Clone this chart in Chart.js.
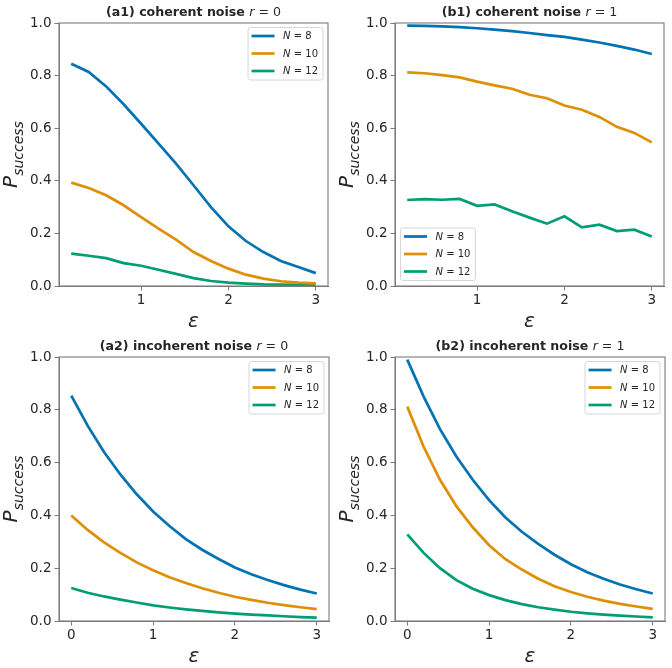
<!DOCTYPE html>
<html>
<head>
<meta charset="utf-8">
<script src="https://cdn.jsdelivr.net/npm/chart.js@4"></script>
<style>
  html, body { margin: 0; padding: 0; background: #fff; }
  #fig { position: relative; width: 672px; height: 668px; }
  .panel { position: absolute; width: 336px; height: 334px; }
</style>
</head>
<body>
<div id="fig">
  <div class="panel" style="left:0;top:0"><canvas id="a1" width="336" height="334"></canvas></div>
  <div class="panel" style="left:336px;top:0"><canvas id="b1" width="336" height="334"></canvas></div>
  <div class="panel" style="left:0;top:334px"><canvas id="a2" width="336" height="334"></canvas></div>
  <div class="panel" style="left:336px;top:334px"><canvas id="b2" width="336" height="334"></canvas></div>
</div>
<script>
// epsilon values (x)
const epsCoherent = [0.2, 0.4, 0.6, 0.8, 1.0, 1.2, 1.4, 1.6, 1.8, 2.0, 2.2, 2.4, 2.6, 2.8, 3.0];
const epsIncoherent = [0, 0.2, 0.4, 0.6, 0.8, 1.0, 1.2, 1.4, 1.6, 1.8, 2.0, 2.2, 2.4, 2.6, 2.8, 3.0];
const sizesN = [8, 10, 12];

// (a1) coherent noise r = 0
const a1N8  = [0.845, 0.814, 0.759, 0.691, 0.617, 0.541, 0.465, 0.383, 0.300, 0.227, 0.171, 0.129, 0.095, 0.072, 0.049];
const a1N10 = [0.393, 0.373, 0.345, 0.307, 0.262, 0.218, 0.176, 0.129, 0.095, 0.066, 0.043, 0.028, 0.018, 0.013, 0.010];
const a1N12 = [0.123, 0.115, 0.106, 0.087, 0.077, 0.062, 0.046, 0.030, 0.019, 0.013, 0.009, 0.006, 0.005, 0.004, 0.004];

// (b1) coherent noise r = 1
const b1N8  = [0.990, 0.989, 0.987, 0.984, 0.980, 0.975, 0.969, 0.962, 0.954, 0.947, 0.937, 0.926, 0.913, 0.899, 0.882];
const b1N10 = [0.812, 0.809, 0.802, 0.793, 0.777, 0.763, 0.750, 0.727, 0.714, 0.686, 0.670, 0.643, 0.605, 0.582, 0.546];
const b1N12 = [0.327, 0.330, 0.328, 0.331, 0.305, 0.310, 0.284, 0.260, 0.237, 0.265, 0.223, 0.233, 0.209, 0.214, 0.188];

// (a2) incoherent noise r = 0
const a2N8  = [0.854, 0.740, 0.640, 0.555, 0.480, 0.415, 0.360, 0.310, 0.270, 0.235, 0.203, 0.177, 0.155, 0.136, 0.119, 0.104];
const a2N10 = [0.400, 0.345, 0.298, 0.258, 0.222, 0.192, 0.166, 0.144, 0.124, 0.107, 0.092, 0.080, 0.069, 0.060, 0.052, 0.045];
const a2N12 = [0.125, 0.107, 0.093, 0.081, 0.070, 0.059, 0.051, 0.044, 0.038, 0.033, 0.028, 0.024, 0.021, 0.018, 0.015, 0.013];

// (b2) incoherent noise r = 1
const b2N8  = [0.990, 0.850, 0.727, 0.623, 0.535, 0.458, 0.392, 0.338, 0.292, 0.251, 0.215, 0.185, 0.160, 0.138, 0.120, 0.104];
const b2N10 = [0.812, 0.660, 0.535, 0.435, 0.355, 0.287, 0.234, 0.195, 0.160, 0.132, 0.110, 0.092, 0.077, 0.065, 0.055, 0.046];
const b2N12 = [0.328, 0.258, 0.200, 0.155, 0.122, 0.098, 0.079, 0.064, 0.052, 0.043, 0.035, 0.029, 0.024, 0.020, 0.017, 0.014];

const xTicksCoherent = [1, 2, 3];
const xTicksIncoherent = [0, 1, 2, 3];
const yTicks = [0, 0.2, 0.4, 0.6, 0.8, 1.0];

const colors = ['#0173b2', '#de8f05', '#029e73'];
const spineColor = '#7a7a7a';
const textColor = '#262626';
const FONT = '"DejaVu Sans", sans-serif';

const panels = [
  { id: 'a1', title: ['(a1) coherent noise ', 'r', ' = 0'], eps: epsCoherent, series: [a1N8, a1N10, a1N12],
    xMin: 0.06, xMax: 3.14, xTicks: xTicksCoherent, legend: 'upper right',
    area: { left: 59, right: 328, top: 23, bottom: 286 } },
  { id: 'b1', title: ['(b1) coherent noise ', 'r', ' = 1'], eps: epsCoherent, series: [b1N8, b1N10, b1N12],
    xMin: 0.06, xMax: 3.14, xTicks: xTicksCoherent, legend: 'lower left',
    area: { left: 59, right: 328, top: 23, bottom: 286 } },
  { id: 'a2', title: ['(a2) incoherent noise ', 'r', ' = 0'], eps: epsIncoherent, series: [a2N8, a2N10, a2N12],
    xMin: -0.15, xMax: 3.15, xTicks: xTicksIncoherent, legend: 'upper right',
    area: { left: 59, right: 329, top: 23, bottom: 287 } },
  { id: 'b2', title: ['(b2) incoherent noise ', 'r', ' = 1'], eps: epsIncoherent, series: [b2N8, b2N10, b2N12],
    xMin: -0.15, xMax: 3.15, xTicks: xTicksIncoherent, legend: 'upper right',
    area: { left: 59, right: 329, top: 23, bottom: 287 } }
];

// draws pieces in mixed fonts one after another, returns total width
function runs(ctx, parts, x, y, measureOnly) {
  let w = 0;
  parts.forEach(p => {
    ctx.font = p.font;
    const pw = ctx.measureText(p.text).width;
    if (!measureOnly) ctx.fillText(p.text, x + w, y + (p.dy || 0));
    w += pw;
  });
  return w;
}

function drawLegend(chart, corner) {
  const ctx = chart.ctx, a = chart.chartArea;
  const rows = chart.data.datasets.map(ds => ({
    color: ds.borderColor,
    parts: [
      { text: 'N', font: 'italic 10px ' + FONT },
      { text: ' = ' + ds.label.split('=')[1].trim(), font: '10px ' + FONT }
    ]
  }));
  ctx.save();
  ctx.textBaseline = 'middle';
  const textW = Math.max(...rows.map(r => runs(ctx, r.parts, 0, 0, true)));
  const boxW = 35 + textW + 5, boxH = 52.5;
  let bx, by;
  if (corner === 'upper right') { bx = a.right - 5 - boxW; by = a.top + 4.5; }
  else { bx = a.left + 5.5; by = a.bottom - 5.5 - boxH; }
  ctx.beginPath();
  ctx.roundRect(bx, by, boxW, boxH, 2.5);
  ctx.fillStyle = 'rgba(255,255,255,0.8)';
  ctx.fill();
  ctx.strokeStyle = '#d6d6d6';
  ctx.lineWidth = 1;
  ctx.stroke();
  rows.forEach((r, i) => {
    const y = by + 8.5 + i * 17.5;
    ctx.beginPath();
    ctx.moveTo(bx + 3.5, y);
    ctx.lineTo(bx + 26.5, y);
    ctx.strokeStyle = r.color;
    ctx.lineWidth = 2.7;
    ctx.stroke();
    ctx.fillStyle = textColor;
    runs(ctx, r.parts, bx + 35, y + 0.5);
  });
  ctx.restore();
}

const decor = {
  id: 'decor',
  afterDraw(chart, args, opts) {
    const ctx = chart.ctx, a = chart.chartArea;
    ctx.save();
    // frame
    ctx.strokeStyle = spineColor;
    ctx.lineWidth = 1.1;
    ctx.strokeRect(a.left, a.top, a.right - a.left, a.bottom - a.top);
    ctx.fillStyle = textColor;
    ctx.textBaseline = 'alphabetic';
    const cx = (a.left + a.right) / 2;
    // title
    const tparts = [
      { text: opts.title[0], font: 'bold 12.6px ' + FONT },
      { text: opts.title[1], font: 'italic 12.6px ' + FONT },
      { text: opts.title[2], font: '12.6px ' + FONT }
    ];
    const tw = runs(ctx, tparts, 0, 0, true);
    runs(ctx, tparts, cx - tw / 2, a.top - 7);
    // x label
    ctx.font = 'italic 20px ' + FONT;
    ctx.textAlign = 'center';
    ctx.fillText('\u03b5', cx, a.bottom + 41);
    ctx.textAlign = 'left';
    // y label
    const yparts = [
      { text: 'P', font: 'italic 20px ' + FONT },
      { text: 'success', font: 'italic 14px ' + FONT, dy: 5.5 }
    ];
    const yw = runs(ctx, yparts, 0, 0, true);
    ctx.translate(17, (a.top + a.bottom) / 2);
    ctx.rotate(-Math.PI / 2);
    runs(ctx, yparts, -yw / 2, 0);
    ctx.restore();
    drawLegend(chart, opts.legend);
  }
};

panels.forEach(p => {
  const H = 334, W = 336;
  new Chart(document.getElementById(p.id), {
    type: 'line',
    data: {
      datasets: p.series.map((s, i) => ({
        label: 'N = ' + sizesN[i],
        data: s.map((v, j) => ({ x: p.eps[j], y: v })),
        borderColor: colors[i],
        backgroundColor: colors[i],
        borderWidth: 2.7,
        pointRadius: 0,
        tension: 0,
        fill: false
      }))
    },
    options: {
      responsive: false,
      devicePixelRatio: 1,
      animation: false,
      layout: { padding: { left: 0, top: p.area.top, right: W - p.area.right, bottom: 0 } },
      plugins: {
        legend: { display: false },
        title: { display: false },
        tooltip: { enabled: false },
        decor: { title: p.title, legend: p.legend }
      },
      scales: {
        x: {
          type: 'linear',
          min: p.xMin,
          max: p.xMax,
          afterBuildTicks: axis => { axis.ticks = p.xTicks.map(v => ({ value: v })); },
          afterFit: axis => { axis.height = H - p.area.bottom; },
          ticks: { color: textColor, font: { family: FONT, size: 13.5 }, padding: 2, maxRotation: 0,
                   callback: v => String(v) },
          grid: { drawOnChartArea: false, drawTicks: true, tickLength: 4.5, color: spineColor, lineWidth: 1 },
          border: { display: true, color: spineColor, width: 1 }
        },
        y: {
          type: 'linear',
          min: 0,
          max: 1,
          afterBuildTicks: axis => { axis.ticks = yTicks.map(v => ({ value: v })); },
          afterFit: axis => { axis.width = p.area.left; },
          ticks: { color: textColor, font: { family: FONT, size: 13.5 }, padding: 3,
                   callback: v => v.toFixed(1) },
          grid: { drawOnChartArea: false, drawTicks: true, tickLength: 4.5, color: spineColor, lineWidth: 1 },
          border: { display: true, color: spineColor, width: 1 }
        }
      }
    },
    plugins: [decor]
  });
});
</script>
</body>
</html>
